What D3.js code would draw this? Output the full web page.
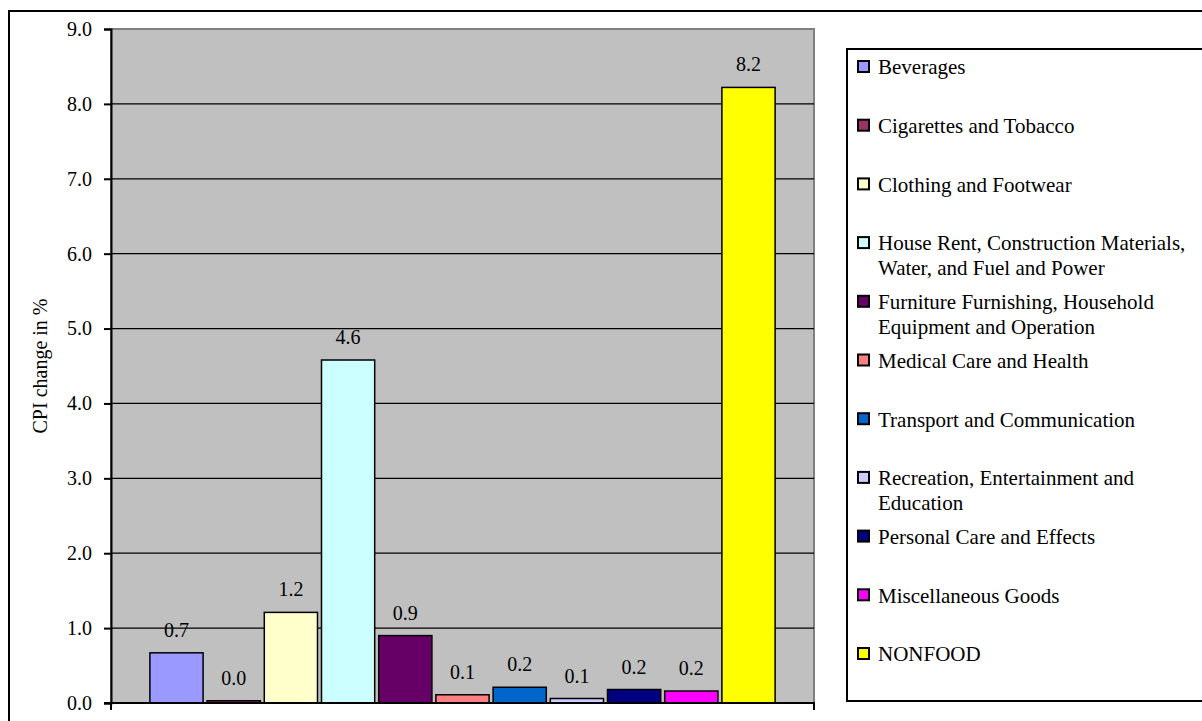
<!DOCTYPE html>
<html>
<head>
<meta charset="utf-8">
<script src="https://cdn.jsdelivr.net/npm/d3@7"></script>
<style>
    body { margin: 0; background: #fff; }
    svg { display: block; }
    svg text { font-family: "Liberation Serif", "Times New Roman", serif !important; }
</style>
</head>
<body>
<div id="chart"></div>
<script>
// CPI change by nonfood group

const categories = [
    "Beverages",
    "Cigarettes and Tobacco",
    "Clothing and Footwear",
    "House Rent, Construction Materials, Water, and Fuel and Power",
    "Furniture Furnishing, Household Equipment and Operation",
    "Medical Care and Health",
    "Transport and Communication",
    "Recreation, Entertainment and Education",
    "Personal Care and Effects",
    "Miscellaneous Goods",
    "NONFOOD"
];

const values = [0.67, 0.03, 1.21, 4.58, 0.90, 0.11, 0.21, 0.06, 0.18, 0.16, 8.22];

const colors = ["#9999FF", "#993366", "#FFFFCC", "#CCFFFF", "#660066", "#FF8080",
                "#0066CC", "#CCCCFF", "#000080", "#FF00FF", "#FFFF00"];

const yTicks = [0, 1, 2, 3, 4, 5, 6, 7, 8, 9];

const data = categories.map((c, i) => ({ name: c, value: values[i], color: colors[i] }));

const width = 1202, height = 721;
const plot = { left: 111, top: 29, right: 814, bottom: 703 };

const svg = d3.select("#chart")
    .append("svg")
    .attr("width", width)
    .attr("height", height);

// outer frame
svg.append("rect")
    .attr("x", 9).attr("y", 11)
    .attr("width", 1210).attr("height", 730)
    .attr("fill", "#fff")
    .attr("stroke", "#000")
    .attr("stroke-width", 2);

// Scales
const y = d3.scaleLinear().domain([0, 9]).range([plot.bottom, plot.top]);
const x = d3.scaleBand()
    .domain(categories)
    .range([plot.left, plot.right])
    .paddingInner(0.07)
    .paddingOuter(0.68);

// plot area
svg.append("rect")
    .attr("x", plot.left).attr("y", plot.top)
    .attr("width", plot.right - plot.left)
    .attr("height", plot.bottom - plot.top)
    .attr("fill", "#C0C0C0")
    .attr("stroke", "#808080")
    .attr("stroke-width", 2);

// gridlines
svg.append("g")
    .selectAll("line")
    .data(yTicks.filter(t => t > 0 && t < 9))
    .join("line")
        .attr("x1", plot.left).attr("x2", plot.right)
        .attr("y1", d => y(d)).attr("y2", d => y(d))
        .attr("stroke", "#000")
        .attr("stroke-width", 1.2);

// bars
svg.append("g")
    .selectAll("rect")
    .data(data)
    .join("rect")
        .attr("x", d => x(d.name))
        .attr("y", d => y(d.value))
        .attr("width", x.bandwidth())
        .attr("height", d => y(0) - y(d.value))
        .attr("fill", d => d.color)
        .attr("stroke", "#000")
        .attr("stroke-width", 1.5);

// value labels
svg.append("g")
    .selectAll("text")
    .data(data)
    .join("text")
        .attr("x", d => x(d.name) + x.bandwidth() / 2)
        .attr("y", d => y(d.value) - 16)
        .attr("text-anchor", "middle")
        .attr("font-size", 20)
        .attr("fill", "#000")
        .text(d => d3.format(".1f")(d.value));

// y axis
const yAxis = svg.append("g")
    .attr("transform", `translate(${plot.left},0)`)
    .call(d3.axisLeft(y).tickValues(yTicks).tickFormat(d3.format(".1f")).tickSize(7).tickPadding(12));
yAxis.attr("font-family", null);
yAxis.select(".domain").attr("stroke-width", 2);
yAxis.selectAll(".tick line").attr("stroke-width", 2);
yAxis.selectAll("text")
    .attr("font-size", 20)
    .attr("fill", "#000");

// x axis (category baseline with end ticks)
svg.append("line")
    .attr("x1", plot.left - 7).attr("x2", plot.right + 1)
    .attr("y1", plot.bottom).attr("y2", plot.bottom)
    .attr("stroke", "#000").attr("stroke-width", 2);
svg.append("g")
    .selectAll("line")
    .data([plot.left, plot.right])
    .join("line")
        .attr("x1", d => d).attr("x2", d => d)
        .attr("y1", plot.bottom).attr("y2", plot.bottom + 7)
        .attr("stroke", "#000").attr("stroke-width", 2);

// axis title
svg.append("text")
    .attr("transform", `translate(47,${(plot.top + plot.bottom) / 2}) rotate(-90)`)
    .attr("text-anchor", "middle")
    .attr("font-size", 20)
    .attr("fill", "#000")
    .text("CPI change in %");

// Legend
const legend = { left: 847, top: 49, bottom: 701 };
svg.append("rect")
    .attr("x", legend.left).attr("y", legend.top)
    .attr("width", 400).attr("height", legend.bottom - legend.top)
    .attr("fill", "#fff")
    .attr("stroke", "#000")
    .attr("stroke-width", 2);

const ly = d3.scalePoint().domain(categories).range([67, 654]);

const items = svg.append("g")
    .selectAll("g")
    .data(data)
    .join("g")
        .attr("transform", d => `translate(${legend.left},${ly(d.name)})`);

items.append("rect")
    .attr("x", 11).attr("y", -6)
    .attr("width", 11).attr("height", 11)
    .attr("fill", d => d.color)
    .attr("stroke", "#000")
    .attr("stroke-width", 2);

items.append("text")
    .attr("x", 31)
    .attr("font-size", 21)
    .attr("fill", "#000")
    .each(function(d) { wrap(d3.select(this), d.name, 322); });

function wrap(text, str, maxWidth) {
    const words = str.split(" ");
    let line = [];
    let tspan = text.append("tspan").attr("x", 31).attr("dy", "0.35em");
    words.forEach(w => {
        line.push(w);
        tspan.text(line.join(" "));
        if (tspan.node().getComputedTextLength() > maxWidth && line.length > 1) {
            line.pop();
            tspan.text(line.join(" "));
            line = [w];
            tspan = text.append("tspan").attr("x", 31).attr("dy", 25).text(w);
        }
    });
}
</script>
</body>
</html>
